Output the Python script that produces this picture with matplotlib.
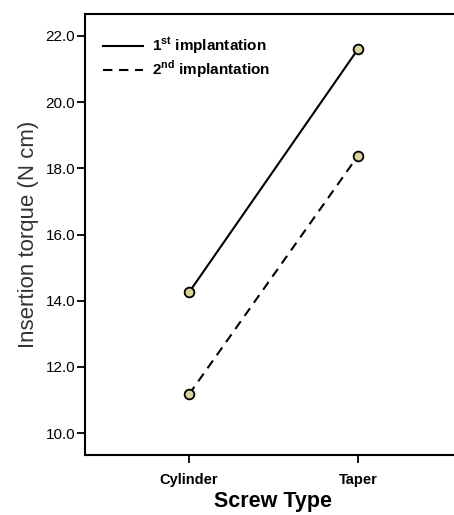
import matplotlib
matplotlib.use('Agg')
import matplotlib.pyplot as plt
from matplotlib.lines import Line2D
from matplotlib.ticker import FormatStrFormatter

plt.rcParams['font.family'] = ['Liberation Sans', 'DejaVu Sans']
plt.rcParams['mathtext.fontset'] = 'custom'
plt.rcParams['mathtext.rm'] = 'Liberation Sans'
plt.rcParams['mathtext.bf'] = 'Liberation Sans:bold'

# data
screw_types = ['Cylinder', 'Taper']
first_impl = [14.25, 21.6]
second_impl = [11.17, 18.38]
yticks = [10.0, 12.0, 14.0, 16.0, 18.0, 20.0, 22.0]

fig = plt.figure(figsize=(4.54, 5.15), dpi=100)
ax = fig.add_axes([85/454, 60/515, 377/454, 441/515])

xpos = [1, 2]
dash = (0, (4.5, 3.2))
ax.plot(xpos, first_impl, color='black', lw=1.5, ls='-',
        marker='o', ms=7, mfc='#d8d49c', mec='black', mew=1.3)
ax.plot(xpos, second_impl, color='black', lw=1.5, ls=dash,
        marker='o', ms=7, mfc='#d8d49c', mec='black', mew=1.3)

ax.set_xlim(0.385, 2.615)
ax.set_ylim(9.34, 22.66)
ax.set_xticks(xpos)
ax.set_xticklabels(screw_types, fontsize=10.5, fontweight='bold')
ax.set_yticks(yticks)
ax.yaxis.set_major_formatter(FormatStrFormatter('%.1f'))
ax.tick_params(axis='y', labelsize=11, length=6, width=1.3, direction='out', pad=1)
ax.tick_params(axis='x', length=6, width=1.3, direction='out', pad=7)
for s in ax.spines.values():
    s.set_linewidth(1.5)

ax.set_ylabel('Insertion torque (N cm)', fontsize=16, labelpad=5, color='#333333')
ax.set_xlabel('Screw Type', fontsize=15.5, fontweight='bold', labelpad=3)

handles = [Line2D([], [], color='black', lw=1.5, ls='-'),
           Line2D([], [], color='black', lw=1.5, ls=dash)]
labels = [r'1$^{\mathbf{st}}$ implantation', r'2$^{\mathbf{nd}}$ implantation']
leg = ax.legend(handles, labels, loc='upper left', frameon=False, fontsize=11,
                handlelength=2.6, handletextpad=0.6,
                borderaxespad=0.3, labelspacing=0.12, bbox_to_anchor=(0.02, 0.975))
for t in leg.get_texts():
    t.set_fontweight('bold')

fig.savefig('out.png', dpi=100)
